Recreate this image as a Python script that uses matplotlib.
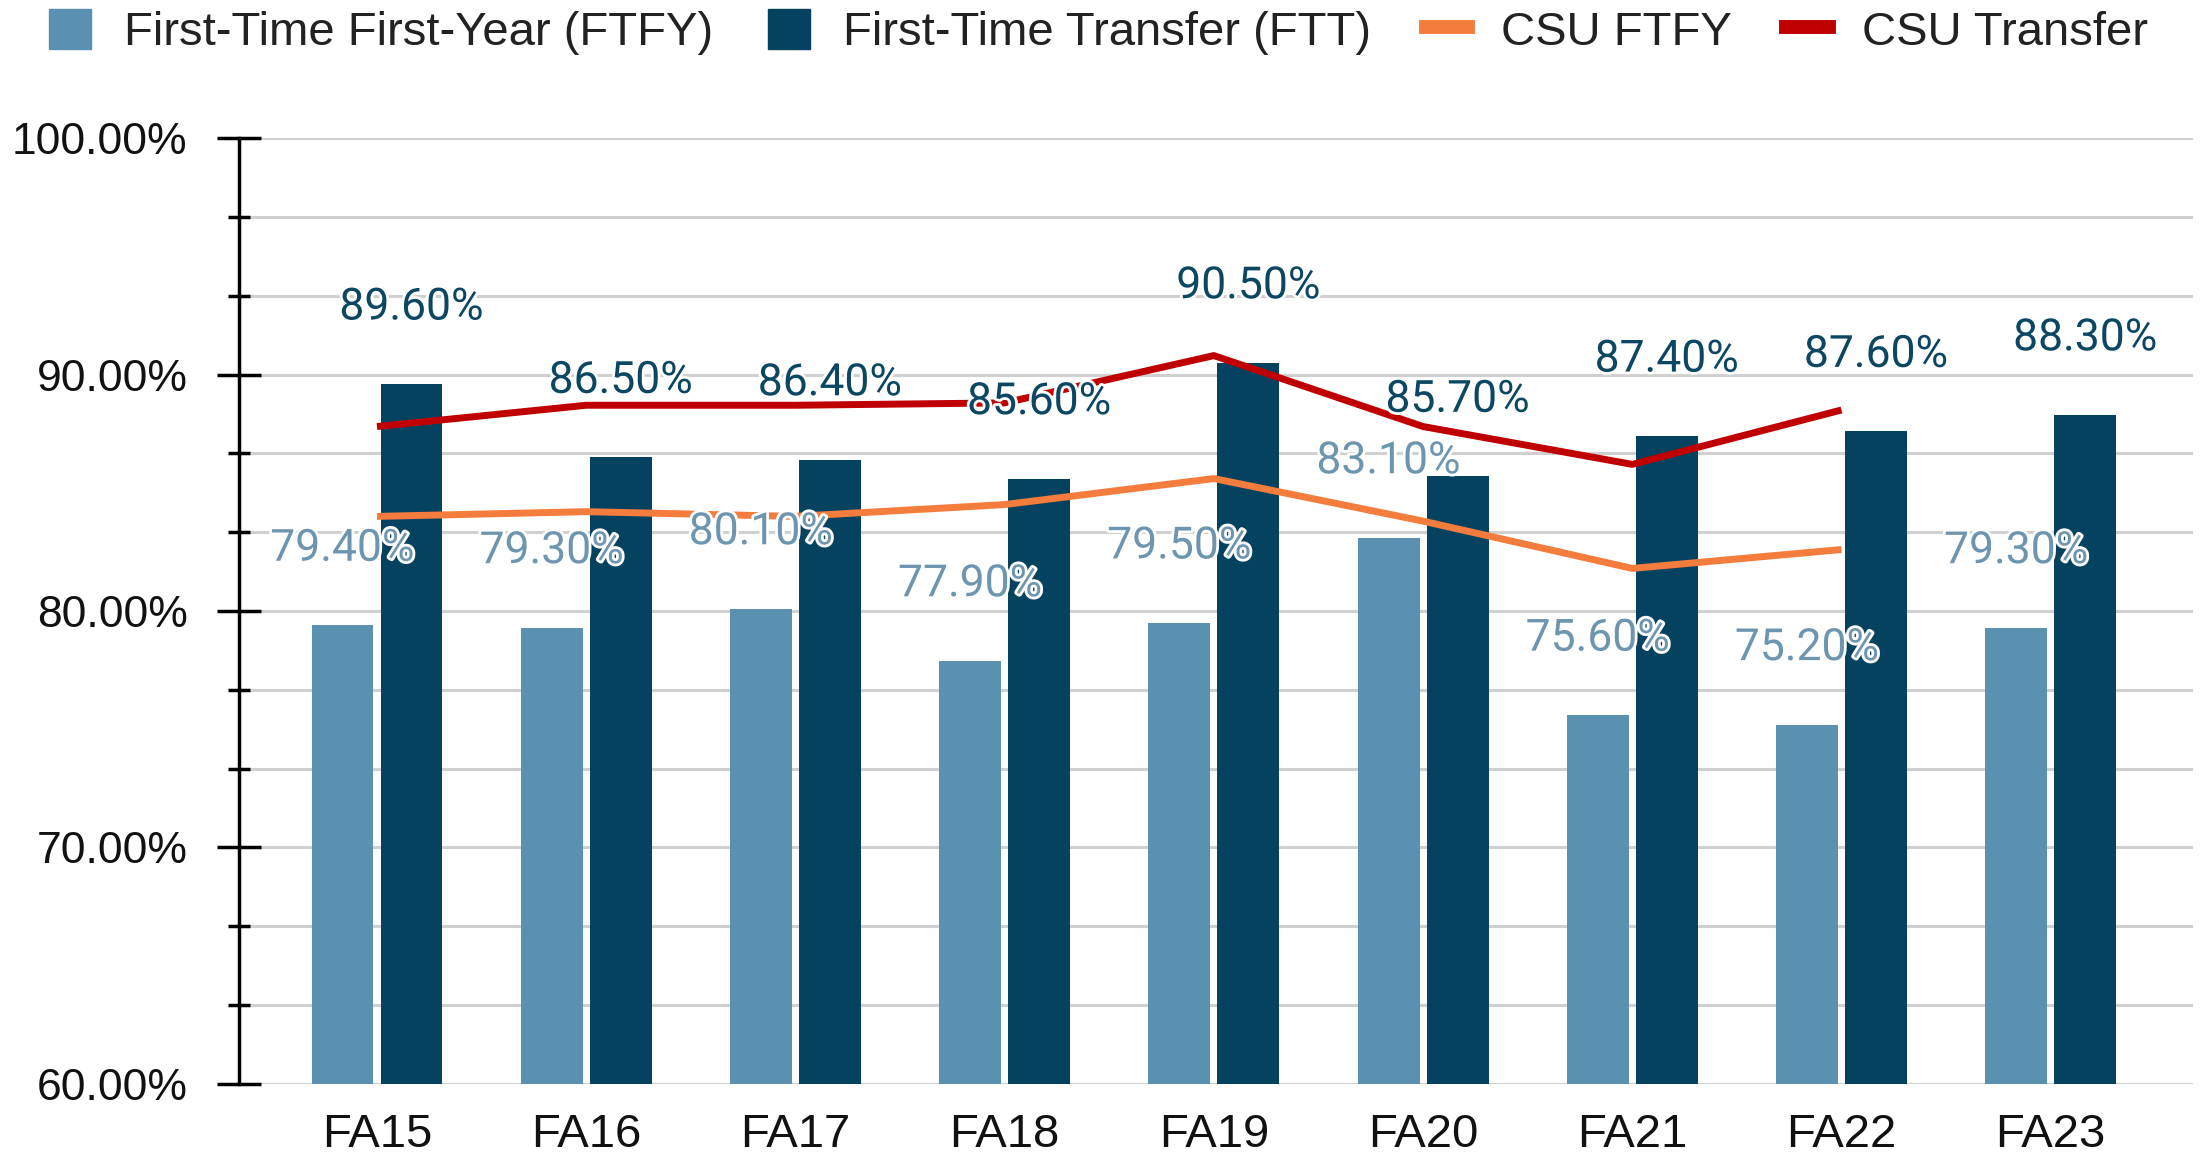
import matplotlib
matplotlib.use("Agg")
import matplotlib.pyplot as plt
import matplotlib.patheffects as pe
from matplotlib.lines import Line2D
from matplotlib.patches import Patch
import numpy as np

# data
terms = ["FA15", "FA16", "FA17", "FA18", "FA19", "FA20", "FA21", "FA22", "FA23"]
ftfy = [79.4, 79.3, 80.1, 77.9, 79.5, 83.1, 75.6, 75.2, 79.3]
ftt = [89.6, 86.5, 86.4, 85.6, 90.5, 85.7, 87.4, 87.6, 88.3]
csu_ftfy = [84.0, 84.2, 84.0, 84.5, 85.6, 83.8, 81.8, 82.6]
csu_transfer = [87.8, 88.7, 88.7, 88.8, 90.8, 87.8, 86.2, 88.5]

c_ftfy = "#5b91b0"
c_ftt = "#04425f"
c_csu_ftfy = "#f47c3c"
c_csu_tr = "#c00000"

plt.rcParams["font.family"] = ["Liberation Sans", "DejaVu Sans"]

fig = plt.figure(figsize=(22.08, 11.55), dpi=100)
ax = fig.add_axes([0.1082, 0.0615, 0.885, 0.819])

x = np.arange(len(terms))
w = 0.296
gap = 0.017
ax.bar(x - w / 2 - gap, ftfy, width=w, color=c_ftfy, zorder=2)
ax.bar(x + w / 2 + gap, ftt, width=w, color=c_ftt, zorder=2)

xl = x[:len(csu_ftfy)]
ax.plot(xl, csu_ftfy, color=c_csu_ftfy, lw=5, zorder=3, solid_capstyle="butt")
ax.plot(xl, csu_transfer, color=c_csu_tr, lw=5, zorder=3, solid_capstyle="butt")

halo = [pe.withStroke(linewidth=4, foreground="white")]
for i in range(len(terms)):
    ax.annotate(f"{ftfy[i]:.2f}%", (x[i] - w / 2 - gap, ftfy[i]), xytext=(0, 55),
                textcoords="offset points", ha="center", va="center",
                fontsize=32, family="Roboto", color="#6d95b0",
                path_effects=halo, zorder=4)
    ax.annotate(f"{ftt[i]:.2f}%", (x[i] + w / 2 + gap, ftt[i]), xytext=(0, 55),
                textcoords="offset points", ha="center", va="center",
                fontsize=32, family="Roboto", color="#0b4763",
                path_effects=halo, zorder=4)

ax.set_xlim(-0.66, 8.68)
ax.set_ylim(60, 100)
ax.set_yticks(np.arange(60, 100.1, 10))
ax.set_yticks(np.arange(60, 100.1, 10 / 3), minor=True)
ax.set_yticklabels([f"{v:.2f}%" for v in np.arange(60, 100.1, 10)])
ax.set_xticks(x)
ax.set_xticklabels(terms)

ax.tick_params(axis="y", which="major", direction="inout", length=32, width=2.5,
               labelsize=32, pad=21, color="black", labelcolor="#111111")
ax.tick_params(axis="y", which="minor", direction="inout", length=16, width=2.5,
               color="black")
ax.tick_params(axis="x", length=0, labelsize=34, pad=21, labelcolor="#111111")

ax.grid(axis="y", which="both", color="#d0d0d0", lw=2.2, zorder=0)
for s in ["top", "right", "bottom"]:
    ax.spines[s].set_visible(False)
ax.spines["left"].set_linewidth(2.5)
ax.spines["left"].set_zorder(5)

handles = [
    Patch(color=c_ftfy, label="First-Time First-Year (FTFY)"),
    Patch(color=c_ftt, label="First-Time Transfer (FTT)"),
    Line2D([0], [0], color=c_csu_ftfy, lw=10, label="CSU FTFY"),
    Line2D([0], [0], color=c_csu_tr, lw=10, label="CSU Transfer"),
]
fig.legend(handles=handles, loc="center left", bbox_to_anchor=(0.005, 0.972), ncol=4,
           frameon=False, fontsize=34, handlelength=0.9, handleheight=0.9,
           handletextpad=0.7, columnspacing=1.15, labelcolor="#222222",
           borderpad=0.3)

fig.savefig("out.png", dpi=100)
